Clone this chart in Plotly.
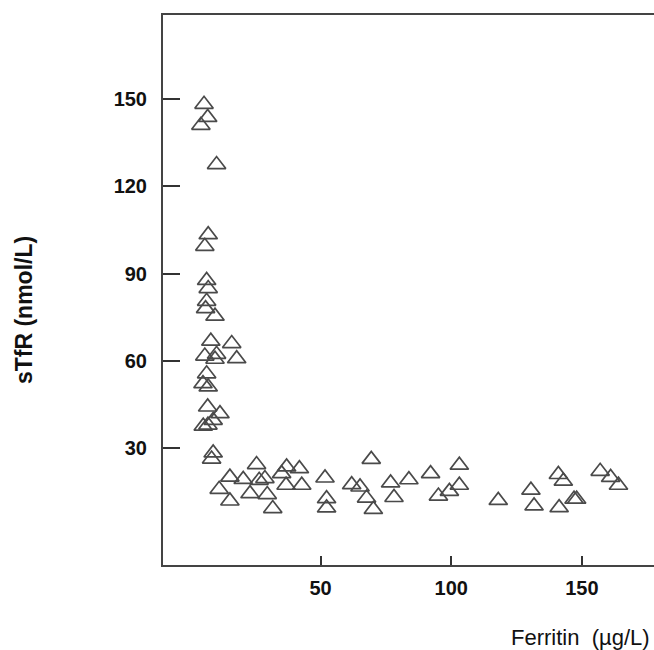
import plotly.graph_objects as go

# Ferritin (µg/L) and sTfR (nmol/L) values
ferritin = [5.4, 6.8, 4.2, 10.2, 7.0, 5.7,
            6.4, 7.0, 6.4, 6.0, 9.6,
            8.0, 16.0, 5.7, 10.2, 17.9, 9.6,
            6.4, 5.0, 7.0, 6.8, 11.5, 8.9, 5.1, 6.9, 8.9, 8.3,
            25.5, 37.0, 41.9, 15.3, 20.4, 28.7, 26.5, 35.1, 51.7,
            11.2, 23.0, 29.6, 36.8, 42.8, 15.3, 31.7, 52.3, 52.3,
            61.9, 65.1, 67.6, 70.2, 69.4,
            76.8, 83.8, 78.1, 92.1, 103.1, 103.1, 99.3, 95.1,
            118.0, 130.5, 131.7, 141.0, 142.9, 141.3, 147.0, 148.0,
            157.0, 161.0, 164.0]
stfr = [148.2, 143.7, 141.0, 127.5, 103.4, 99.4,
        87.7, 84.9, 80.5, 78.0, 75.4,
        66.8, 66.0, 61.7, 62.3, 60.8, 60.6,
        55.6, 52.2, 51.1, 44.2, 41.9, 39.6, 37.6, 38.0, 28.4, 26.3,
        24.4, 23.6, 23.0, 20.1, 19.3, 19.6, 19.0, 21.3, 19.8,
        15.9, 14.4, 14.1, 17.3, 17.3, 11.9, 9.3, 12.7, 9.5,
        17.5, 16.7, 12.9, 9.0, 26.2,
        18.1, 19.2, 13.1, 21.3, 24.2, 17.3, 15.2, 13.6,
        12.1, 15.6, 10.2, 21.0, 18.7, 9.6, 12.5, 12.5,
        22.1, 20.0, 17.3]

x_ticks = [50, 100, 150]
y_ticks = [30, 60, 90, 120, 150]

fig = go.Figure()
fig.add_trace(go.Scatter(
    x=ferritin, y=stfr, mode="markers",
    marker=dict(symbol="triangle-up-open", size=16,
                color="#4a4a4a", line=dict(color="#4a4a4a", width=1.7)),
    showlegend=False, hoverinfo="skip"))

tickfont = dict(family="Liberation Sans, Arial, sans-serif", size=20,
                color="#111111", weight="bold")

fig.update_layout(
    width=654, height=650,
    margin=dict(l=163, r=0, t=15, b=85),
    paper_bgcolor="white", plot_bgcolor="white",
    xaxis=dict(range=[-10.3, 177.6], tickvals=x_ticks,
               ticktext=[str(v) for v in x_ticks],
               ticks="inside", ticklen=9, tickwidth=2, tickcolor="#333333",
               showline=True, linewidth=2, linecolor="#444444", mirror=True,
               showgrid=False, zeroline=False, tickfont=tickfont,
               ticklabelstandoff=4),
    yaxis=dict(range=[-10.1, 178.9], tickvals=y_ticks,
               ticktext=[str(v) for v in y_ticks],
               ticks="inside", ticklen=17, tickwidth=2, tickcolor="#333333",
               showline=True, linewidth=2, linecolor="#444444",
               showgrid=False, zeroline=False, tickfont=tickfont,
               ticklabelstandoff=10),
    annotations=[
        dict(text="sTfR (nmol/L)", xref="paper", yref="paper",
             x=-0.283, y=0.4636, xanchor="center", yanchor="middle",
             textangle=-90, showarrow=False,
             font=dict(family="Liberation Sans, Arial, sans-serif", size=23,
                       color="#111111", weight="bold")),
        dict(text="Ferritin\u00a0\u00a0(µg/L)", xref="paper", yref="paper",
             x=0.996, y=-0.1327, xanchor="right", yanchor="middle",
             showarrow=False,
             font=dict(family="Liberation Sans, Arial, sans-serif", size=22,
                       color="#111111")),
    ],
)

fig.write_html(
    "out.html",
    config={"displayModeBar": False},
    post_script="document.body.style.margin='0';document.body.style.overflow='hidden';",
)
